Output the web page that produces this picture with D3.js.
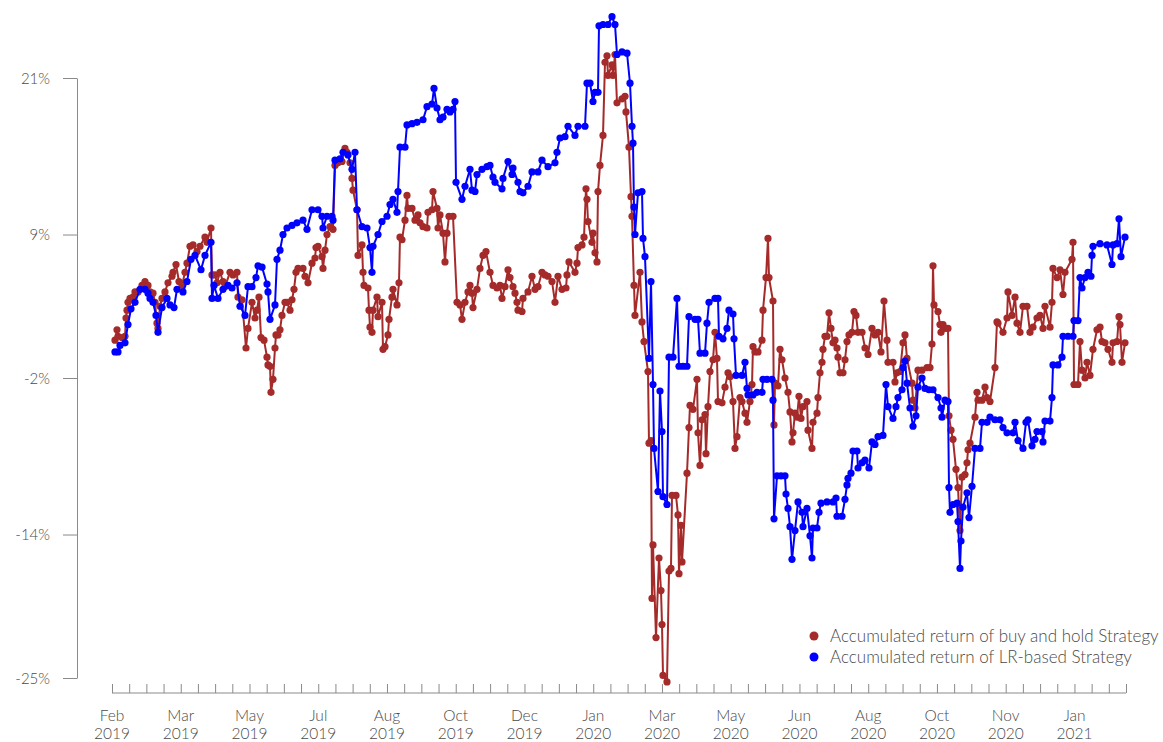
<!DOCTYPE html>
<html>
<head>
<meta charset="utf-8">
<script src="https://cdn.jsdelivr.net/npm/d3@7"></script>
<style>
  body { margin: 0; background: #fff; }
  svg text { font-family: Lato, "Open Sans", sans-serif; font-weight: 300; fill: #4a4a4a; }
  .axis path, .axis line { stroke: #8a8a8a; }
</style>
</head>
<body>
<div id="chart"></div>
<script>
// y ticks (accumulated return, %)
const yTicks = [21, 9, -2, -14, -25];
// x axis: one label every 4th minor tick
const monthLabels = ["Feb 2019", "Mar 2019", "May 2019", "Jul 2019", "Aug 2019", "Oct 2019", "Dec 2019",
  "Jan 2020", "Mar 2020", "May 2020", "Jun 2020", "Aug 2020", "Oct 2020", "Nov 2020", "Jan 2021"];
const minorTickCount = 60;
const seriesNames = ["Accumulated return of buy and hold Strategy", "Accumulated return of LR-based Strategy"];
const seriesColors = ["#a52a2a", "#0000ff"];

// [trading day, accumulated return %]
const buyHold = [[0,0.9],[1,1.7],[1.5,1.2],[3.5,1.1],[5,1.2],[5.5,2.6],[6,3.2],[6.5,3.8],[7.5,4.1],[9,4.2],[10,4.6],[11.5,4.6],
  [13.5,5.1],[15,5.4],[16.5,5.1],[17.5,4.6],[19,4.5],[20,3.8],[21,2.2],[21.5,1.8],[22.5,3.5],[23.5,4.1],[25,4.6],[26.5,5.3],
  [28.5,5.8],[29,6.1],[30.5,6.7],[32,5.4],[33.5,5.1],[35,6.1],[36,6.8],[37.5,8.1],[39,8.2],[41,7.7],[42.5,8.1],[45,8.8],
  [46,8.4],[48,9.5],[48.5,5.9],[50,5.9],[51,5.3],[52.5,6.1],[54,5.4],[55,5.0],[57.5,6.1],[59,5.9],[61,6.1],[61.5,4.2],
  [63.5,4.0],[65.5,0.3],[66.5,1.8],[68.5,3.8],[70,2.6],[71,3.2],[72,4.2],[73,1.1],[74.5,0.9],[76,-0.4],[76.5,-1.0],
  [77.5,-1.1],[78,-3.1],[79,-2.1],[80,0.3],[80.5,1.3],[81.5,1.3],[82.5,1.7],[83.5,2.8],[85,3.8],[86,3.8],[87.5,3.2],
  [88.5,4.0],[89.5,4.8],[90.5,6.1],[91.5,6.4],[94,6.4],[95,5.8],[96.5,5.3],[98.5,6.8],[100,7.2],[100.5,8.0],[101.5,8.1],
  [103.5,7.3],[104,6.4],[105,7.8],[106,9.0],[107.5,9.6],[109,9.4],[110,14.3],[111.5,14.5],[113.5,14.6],[115,15.6],
  [116,15.3],[117.5,14.5],[118.5,13.3],[119,12.4],[121,10.9],[121.5,7.4],[123.5,8.2],[124,6.1],[124.5,5.1],[126.5,4.9],
  [127,3.2],[127.5,1.9],[128.5,1.5],[129,3.2],[131,4.2],[131.5,2.7],[133.5,3.8],[134,0.2],[135,0.4],[136.5,1.3],[137,2.5],
  [138.5,4.2],[139,4.8],[141,3.6],[142,5.3],[142.5,8.8],[143.5,8.6],[145,10.1],[146,12.0],[146.5,11.0],[148.5,11.0],
  [150,10.1],[151.5,10.5],[152.5,9.9],[154,9.6],[156,9.5],[156.5,10.7],[158.5,10.9],[159,12.3],[161,11.0],[161.5,9.5],
  [162.5,10.5],[164,9.1],[165,6.9],[166,9.1],[167,10.4],[169,10.4],[171,3.8],[172.5,3.6],[173.5,2.5],[175,3.8],[176.5,4.6],
  [177.5,5.1],[178.5,4.5],[179,3.4],[181,4.8],[182.5,6.4],[184,7.4],[185.5,7.7],[187.5,6.1],[189,5.1],[191,4.9],[192.5,5.1],
  [193.5,4.1],[195,5.0],[196.5,6.3],[197.5,5.7],[199,5.0],[200,4.5],[201,3.8],[201.5,3.2],[203.5,3.1],[204,4.1],[206.5,4.6],
  [208.5,5.8],[210,4.8],[211.5,5.0],[213.5,6.1],[215,5.9],[216.5,5.8],[218.5,5.4],[220,3.8],[221.5,5.8],[223.5,4.8],
  [225.5,4.9],[226,5.9],[227,6.9],[230,6.1],[231,6.8],[231.5,8.0],[233.5,8.2],[234.5,8.8],[235.5,12.5],[236,11.7],
  [236.5,10.0],[238.5,8.4],[239,9.1],[240,7.6],[241,6.9],[241.5,12.3],[242.5,14.3],[244,16.6],[245,22.2],[246,22.7],
  [246.5,21.2],[248.5,22.0],[249,21.2],[250,22.8],[251,19.1],[253.5,19.4],[255,19.6],[255.5,18.4],[257,15.7],[258,11.9],
  [258.5,10.4],[259.5,5.1],[260,2.8],[262.5,6.1],[263.5,2.3],[264.5,0.8],[266.5,-1.5],[267,-7.0],[268,-6.8],[268.5,-18.9],
  [269,-14.8],[270.5,-21.9],[272,-15.8],[273,-18.3],[273.5,-20.9],[274,-24.8],[276,-25.3],[277,-16.8],[278,-16.6],
  [278.5,-11.0],[280.5,-11.0],[281.5,-12.5],[282,-17.0],[283,-13.3],[283.5,-16.1],[286,-9.3],[287,-5.8],[287.5,-4.1],
  [289,-4.4],[291,-2.1],[291.5,-6.2],[292.5,-8.7],[293.5,-5.2],[295,-4.8],[295.5,-7.8],[296.5,-4.2],[297.5,-1.5],[299,-0.6],
  [300,1.5],[301,-0.5],[301.5,-3.8],[303.5,-3.9],[305,-2.7],[306.5,-1.6],[307.5,-1.9],[309,-3.8],[310,-7.4],[311,-6.5],
  [312.5,-3.5],[313.5,-3.8],[315,-4.7],[316,-5.4],[317.5,-3.8],[318.5,-2.5],[319,0.4],[320,0.0],[321.5,0.0],[323.5,0.9],
  [324,3.2],[325.5,5.7],[326.5,8.7],[327,5.7],[329,3.9],[329.5,-5.6],[330,-2.4],[331.5,-2.6],[332.5,0.2],[333.5,-0.6],
  [335,-2.0],[336.5,-3.1],[337.5,-4.6],[338.5,-6.9],[339,-6.2],[340,-4.7],[341,-5.0],[342,-3.4],[343,-5.1],[344,-4.2],
  [346,-3.8],[346.5,-6.0],[348.5,-7.4],[349,-5.4],[351,-4.7],[351.5,-3.5],[352.5,-1.6],[353.5,-0.8],[354,0.2],[355,1.2],
  [356,1.2],[357,3.0],[358,1.8],[359,0.7],[360,0.9],[361,0.3],[361.5,-0.4],[362.5,-1.6],[364,-1.6],[365,-0.6],[366,0.8],
  [367,1.3],[368.5,1.5],[369.5,3.1],[370.5,2.8],[371.5,1.5],[373.5,1.5],[375,0.3],[376.5,-0.2],[378.5,1.8],[380,1.3],
  [381.5,1.5],[383,0.0],[384.5,3.9],[386,0.9],[386.5,-0.8],[389,-0.8],[390,-2.3],[391,-1.6],[392.5,-1.5],[394,0.7],
  [395,1.3],[396,-0.5],[398.5,-2.4],[399,-3.7],[400,-4.3],[401.5,-1.4],[403.5,-1.4],[406,-1.2],[407.5,-1.2],[408.5,0.6],
  [409,6.6],[409.5,3.6],[411.5,3.1],[412.5,2.1],[413,1.5],[414,2.1],[415,1.8],[416.5,1.8],[417,-4.9],[418,-6.0],[419,-6.7],
  [420.5,-9.0],[421.5,-10.4],[422.5,-13.7],[423.5,-9.6],[425,-9.4],[426,-8.5],[426.5,-7.5],[427.5,-7.0],[430,-5.0],
  [431,-3.1],[431.5,-3.7],[433.5,-3.7],[435,-2.7],[436,-3.5],[437.5,-3.8],[440,-1.2],[441,2.3],[441.5,2.2],[444,1.5],
  [446,2.6],[446.5,4.6],[448.5,2.8],[450,4.2],[451,2.2],[452.5,1.5],[454,3.5],[456,3.5],[457.5,1.5],[459,1.9],[461,2.6],
  [462.5,2.8],[464,1.8],[465,3.5],[467.5,1.9],[468.5,3.8],[469,6.4],[471,5.7],[472.5,6.3],[474,4.4],[475,6.1],[478.5,7.1],
  [479,8.4],[479.5,-2.5],[481.5,-2.5],[482.5,0.8],[483.5,-1.4],[485,-2.0],[486,-0.8],[487.5,-1.8],[489,0.2],[491,1.7],
  [492.5,1.9],[493.5,0.8],[495,0.7],[496.5,0.2],[498.5,-0.8],[499,0.7],[501,0.8],[502,2.7],[502.5,2.1],[503.5,-0.8],[505,0.7]];

const lrBased = [[0,0.0],[1.5,0.0],[2.5,0.5],[5,0.7],[6.5,2.1],[8,3.3],[10,3.8],[12.5,4.8],[15,4.8],[16.5,4.5],[17.5,4.1],
  [19,3.8],[20.5,2.8],[21.5,1.5],[23.5,3.4],[26,4.1],[27.5,3.6],[29.5,3.4],[31,4.8],[34,4.6],[36,5.4],[38,7.1],[40,7.4],
  [43,6.3],[45,7.4],[48,8.4],[48.5,4.1],[49.5,5.1],[51.5,4.1],[54,4.8],[56.5,5.1],[58.5,4.9],[61,5.3],[62.5,3.5],[65,2.8],
  [66.5,5.0],[68.5,5.0],[70.5,5.7],[71.5,6.6],[73.5,6.5],[76,5.2],[76.5,4.6],[77.5,2.5],[80,3.6],[81,7.1],[82.5,7.8],
  [84,9.0],[86,9.5],[88.5,9.7],[91,9.9],[94,10.1],[96,9.4],[98.5,10.9],[101.5,10.9],[103.5,10.4],[104,9.5],[106,10.4],
  [108.5,10.4],[109,10.1],[110,14.7],[112.5,14.8],[114,15.3],[116.5,15.1],[118.5,14.0],[120,15.3],[121,10.9],[123.5,9.6],
  [126,9.5],[127.5,8.0],[128.5,6.1],[129,8.1],[131.5,9.0],[133.5,10.0],[136,10.4],[137.5,11.3],[139,11.7],[141,10.7],
  [141.5,12.3],[142.5,15.7],[145,15.7],[146,17.4],[148.5,17.5],[151,17.6],[154,17.8],[156,18.8],[158.5,19.0],[159.5,20.2],
  [161,18.7],[162.5,17.8],[164,18.0],[166,18.6],[167.5,18.4],[169,18.6],[170,19.2],[170.5,13.0],[173.5,11.7],[175,12.7],
  [177.5,14.0],[178.5,12.4],[180,12.3],[181,13.6],[183.5,14.0],[186,14.2],[187.5,14.3],[189,13.4],[190,13.0],[193.5,12.5],
  [194,13.3],[196.5,14.6],[198.5,13.6],[199,14.1],[201.5,13.0],[202.5,12.3],[204,12.2],[206.5,12.7],[208.5,13.8],
  [211.5,13.8],[213.5,14.7],[216.5,14.2],[220,14.5],[221,15.3],[222.5,16.4],[225,16.5],[226.5,17.3],[230,16.6],[231.5,17.3],
  [235,17.3],[236,20.6],[237.5,20.6],[239,19.2],[240,19.9],[241.5,19.9],[242,25.0],[244,25.1],[246.5,25.1],[248.5,25.7],
  [250,25.1],[251,22.8],[253.5,23.0],[256,22.9],[257.5,20.6],[258.5,17.3],[259,16.0],[259.5,11.1],[260,9.0],[261.5,12.2],
  [263.5,12.3],[264,8.7],[265,7.3],[267,-0.5],[268,5.4],[269,-2.5],[269.5,-7.4],[271.5,-10.7],[272.5,-3.0],[273.5,-6.1],
  [274,-11.1],[276,-11.7],[277,-0.4],[279,-0.4],[281,4.1],[282,-1.1],[284,-1.1],[286,-1.1],[287,2.7],[290,2.5],[291.5,2.5],
  [292.5,-0.1],[295,-0.1],[296,2.2],[297,3.8],[300,4.1],[301.5,4.1],[302,1.2],[304,1.0],[306,1.8],[307,3.2],[309,2.9],
  [309.5,1.0],[310.5,-1.8],[313.5,-1.8],[315,-0.8],[316,-2.8],[316.5,-3.3],[319,-3.3],[321,-3.1],[323.5,-3.1],[324,-2.1],
  [326,-2.1],[328.5,-2.1],[329,-3.7],[329.5,-12.8],[331,-9.5],[333,-9.5],[335,-9.5],[335.5,-10.9],[336.5,-12.0],
  [337.5,-13.4],[338.5,-15.9],[340,-13.7],[341.5,-11.5],[343.5,-12.3],[344,-13.4],[346,-12.0],[347.5,-14.1],[348.5,-15.8],
  [349,-13.5],[351,-13.5],[352,-12.3],[353,-11.6],[356,-11.5],[359,-11.5],[360.5,-11.2],[361,-12.6],[363.5,-12.6],
  [365,-11.3],[366,-10.2],[366.5,-9.7],[368,-9.3],[369,-7.6],[371,-7.6],[371.5,-8.9],[373.5,-8.5],[375,-8.3],[377,-8.9],
  [378.5,-6.9],[380,-7.1],[381.5,-6.5],[384,-6.4],[385.5,-2.5],[386.5,-4.2],[389,-5.1],[390.5,-4.2],[391.5,-3.5],
  [393.5,-2.9],[394,-1.2],[395,-0.7],[396,-2.4],[397.5,-4.3],[399,-5.7],[400.5,-4.9],[401.5,-2.7],[403.5,-2.0],[405,-2.8],
  [407,-2.9],[409,-2.9],[411.5,-3.5],[413,-4.3],[413.5,-5.0],[415,-3.7],[416.5,-3.8],[417,-10.4],[417.5,-12.3],[419,-11.7],
  [421,-11.6],[421.5,-13.0],[422.5,-16.6],[423,-14.5],[424,-11.9],[426,-10.8],[427,-12.7],[428.5,-10.3],[430,-7.4],
  [432.5,-7.4],[433.5,-5.4],[436,-5.4],[437.5,-5.0],[440,-5.2],[442.5,-5.2],[444,-5.8],[446,-6.2],[449,-6.2],[450,-5.4],
  [451.5,-6.8],[454,-7.4],[455.5,-5.4],[456.5,-5.2],[458.5,-7.2],[460,-6.7],[461,-6.1],[463.5,-6.1],[464,-6.9],[465,-5.3],
  [467.5,-5.3],[468.5,-3.5],[469,-1.0],[471.5,-1.0],[473.5,-0.4],[474,1.2],[476.5,1.2],[479,1.2],[479.5,2.4],[481.5,2.4],
  [482.5,5.7],[483.5,4.9],[485,5.7],[486.5,6.1],[488,5.8],[488.5,7.4],[489,8.1],[492.5,8.3],[496,8.2],[498.5,6.7],[499,8.2],
  [501,8.3],[502,10.2],[503,7.3],[505,8.8]];

const width = 1163, height = 742;
const svg = d3.select("#chart").append("svg").attr("width", width).attr("height", height);

const x = d3.scaleLinear().domain([0, 505]).range([115, 1125]);
const y = d3.scaleLinear().domain([-25, 21]).range([678, 78]);
const tickScale = d3.scaleLinear().domain([0, minorTickCount - 1]).range([112, 1126]);

// y axis
const yAxis = svg.append("g").attr("class", "axis").attr("transform", "translate(77,0)")
  .call(d3.axisLeft(y).tickValues(yTicks).tickSize(14).tickSizeOuter(0).tickPadding(13).tickFormat(d => d + "%"));
yAxis.selectAll("text").attr("font-size", "15px").attr("dy", "0.34em");

// x axis: minor ticks pointing up, labels below
const xAxis = svg.append("g").attr("class", "axis").attr("transform", "translate(0,693)")
  .call(d3.axisTop(tickScale).tickValues(d3.range(minorTickCount)).tickSize(9).tickSizeOuter(0).tickFormat(""));
xAxis.select(".domain").attr("d", `M${tickScale(0)},0H${tickScale(minorTickCount - 1)}`);

const labelG = svg.append("g");
monthLabels.forEach(function (lab, i) {
  const parts = lab.split(" ");
  const t = labelG.append("text").attr("text-anchor", "middle").attr("font-size", "15.5px")
    .attr("transform", "translate(" + tickScale(i * 4) + ",721)");
  t.append("tspan").attr("x", 0).attr("y", 0).text(parts[0]);
  t.append("tspan").attr("x", 0).attr("y", 18).text(parts[1]);
});

// series
const line = d3.line().x(d => x(d[0])).y(d => y(d[1]));
[buyHold, lrBased].forEach(function (data, i) {
  const g = svg.append("g");
  g.append("path").datum(data).attr("fill", "none").attr("stroke", seriesColors[i])
    .attr("stroke-width", 2).attr("d", line);
  g.selectAll("circle").data(data).enter().append("circle")
    .attr("cx", d => x(d[0])).attr("cy", d => y(d[1])).attr("r", 3.6).attr("fill", seriesColors[i]);
});

// legend
const legend = svg.append("g").attr("transform", "translate(814,636)");
seriesNames.forEach(function (name, i) {
  const row = legend.append("g").attr("transform", "translate(0," + i * 21 + ")");
  row.append("circle").attr("r", 4.5).attr("fill", seriesColors[i]);
  row.append("text").attr("x", 16).attr("dy", "0.35em").attr("font-size", "17px").text(name);
});
</script>
</body>
</html>
